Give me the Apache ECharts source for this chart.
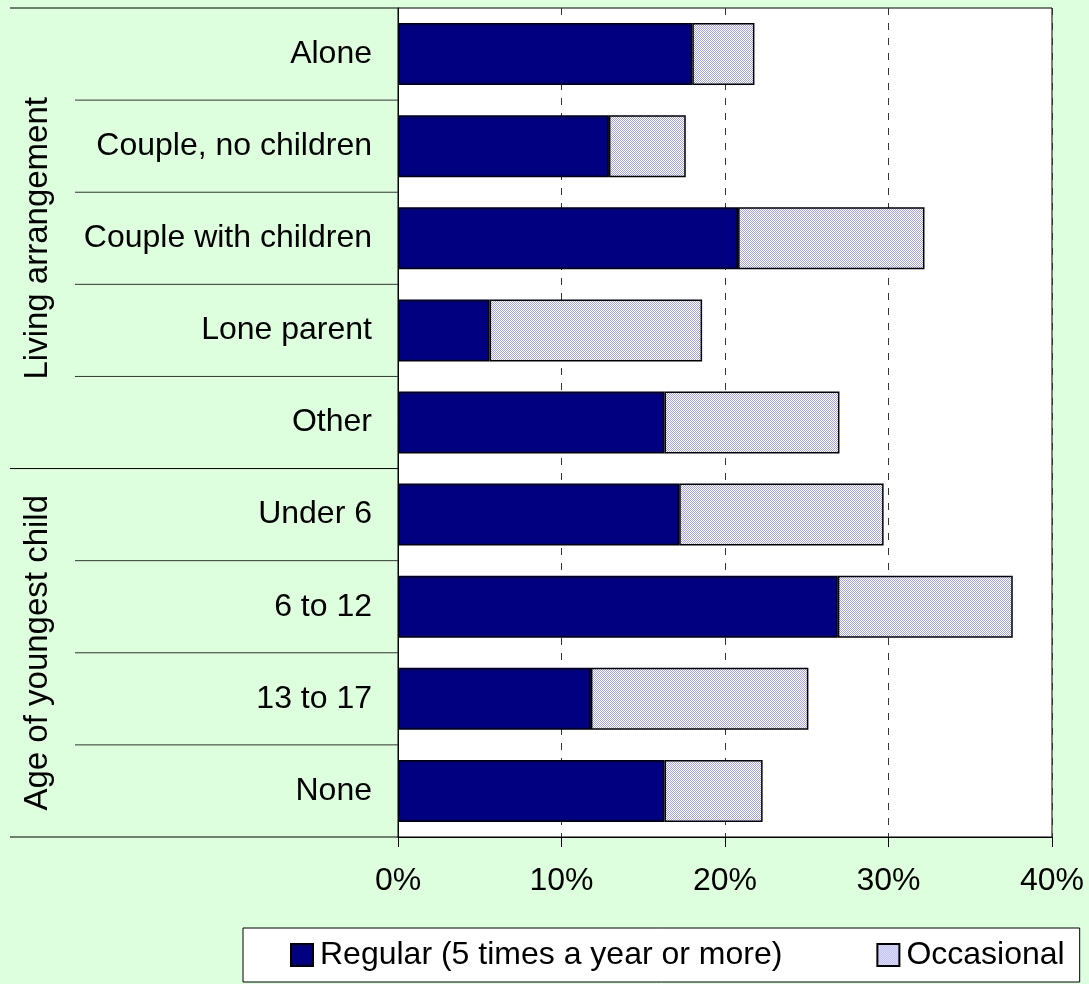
<!DOCTYPE html>
<html>
<head>
<meta charset="utf-8">
<script src="https://cdn.jsdelivr.net/npm/echarts@6/dist/echarts.min.js"></script>
<style>
  html, body { margin: 0; padding: 0; background: #ddffdd; }
  #chart { width: 1089px; height: 984px; }
</style>
</head>
<body>
<div id="chart"></div>
<script>
// categories top to bottom
const categories = ['Alone', 'Couple, no children', 'Couple with children', 'Lone parent', 'Other',
  'Under 6', '6 to 12', '13 to 17', 'None'];
const groupNames = ['Living arrangement', 'Age of youngest child'];
const groupSizes = [5, 4];

// percent of population
const regular = [18.0, 12.9, 20.8, 5.6, 16.3, 17.2, 26.9, 11.8, 16.3];
const occasional = [3.8, 4.7, 11.4, 13.0, 10.7, 12.5, 10.7, 13.3, 6.0];

const xTicks = [0, 10, 20, 30, 40];

const FONT = "'Liberation Sans', Arial, sans-serif";

// dotted fill like the original hatch
const pat = document.createElement('canvas');
pat.width = 2; pat.height = 2;
const pc = pat.getContext('2d');
pc.fillStyle = '#ffffff';
pc.fillRect(0, 0, 2, 2);
pc.fillStyle = '#a0a0ee';
pc.fillRect(0, 0, 1, 1);
pc.fillRect(1, 1, 1, 1);

const chart = echarts.init(document.getElementById('chart'));

chart.setOption({
  backgroundColor: '#ddffdd',
  animation: false,
  textStyle: { fontFamily: FONT },
  grid: {
    left: 398, right: 37, top: 8, bottom: 147,
    show: true, backgroundColor: '#ffffff', borderColor: '#000', borderWidth: 1
  },
  legend: {
    left: 243, top: 928,
    padding: [11, 15, 11, 47],
    backgroundColor: '#ffffff',
    borderColor: '#000', borderWidth: 1,
    itemWidth: 22, itemHeight: 22, itemGap: 94,
    textStyle: { fontSize: 32, color: '#000', fontFamily: FONT, padding: [0, 0, 0, 2] },
    icon: 'rect'
  },
  xAxis: {
    type: 'value',
    min: xTicks[0], max: xTicks[xTicks.length - 1], interval: 10,
    axisLine: { show: true, lineStyle: { color: '#000', width: 1 } },
    axisTick: { show: true, length: 10, lineStyle: { color: '#000' } },
    axisLabel: { fontSize: 32, color: '#000', margin: 28, formatter: '{value}%' },
    splitLine: { show: true, lineStyle: { color: '#333', type: [7, 8], width: 1 } }
  },
  yAxis: {
    type: 'category',
    inverse: true,
    data: categories,
    axisLine: { show: true, lineStyle: { color: '#000', width: 1 } },
    axisTick: { show: false },
    axisLabel: { fontSize: 32, color: '#000', margin: 26 }
  },
  series: [
    {
      name: 'Regular (5 times a year or more)',
      type: 'bar', stack: 'total', barWidth: 62,
      data: regular,
      itemStyle: { color: '#000080', borderColor: '#000', borderWidth: 1.5 }
    },
    {
      name: 'Occasional',
      type: 'bar', stack: 'total', barWidth: 62,
      data: occasional,
      itemStyle: { color: { image: pat, repeat: 'repeat' }, borderColor: '#000', borderWidth: 1.5 }
    }
  ]
});

// separators and group labels in the label area, placed from the category axis
function boundaryY(i) {
  const n = categories.length;
  const y0 = chart.convertToPixel({ yAxisIndex: 0 }, categories[0]);
  const y1 = chart.convertToPixel({ yAxisIndex: 0 }, categories[n - 1]);
  const step = (y1 - y0) / (n - 1);
  return y0 - step / 2 + i * step;
}
const x0 = chart.convertToPixel({ xAxisIndex: 0 }, 0);
const graphics = [];
let start = 0;
graphics.push({ type: 'line', shape: { x1: 10, y1: boundaryY(0), x2: x0, y2: boundaryY(0) },
  style: { stroke: '#000', lineWidth: 1 }, silent: true });
groupSizes.forEach((size, g) => {
  for (let k = 1; k < size; k++) {
    const y = boundaryY(start + k);
    graphics.push({ type: 'line', shape: { x1: 75, y1: y, x2: x0, y2: y },
      style: { stroke: '#333', lineWidth: 1 }, silent: true });
  }
  const yEnd = boundaryY(start + size);
  graphics.push({ type: 'line', shape: { x1: 10, y1: yEnd, x2: x0, y2: yEnd },
    style: { stroke: '#000', lineWidth: 1 }, silent: true });
  const mid = (boundaryY(start) + yEnd) / 2;
  graphics.push({
    type: 'text', x: 38, y: mid, rotation: Math.PI / 2, silent: true,
    style: { text: groupNames[g], fontSize: 33, fontFamily: FONT, fill: '#000',
      align: 'center', verticalAlign: 'middle' }
  });
  start += size;
});
chart.setOption({ graphic: graphics });
</script>
</body>
</html>
